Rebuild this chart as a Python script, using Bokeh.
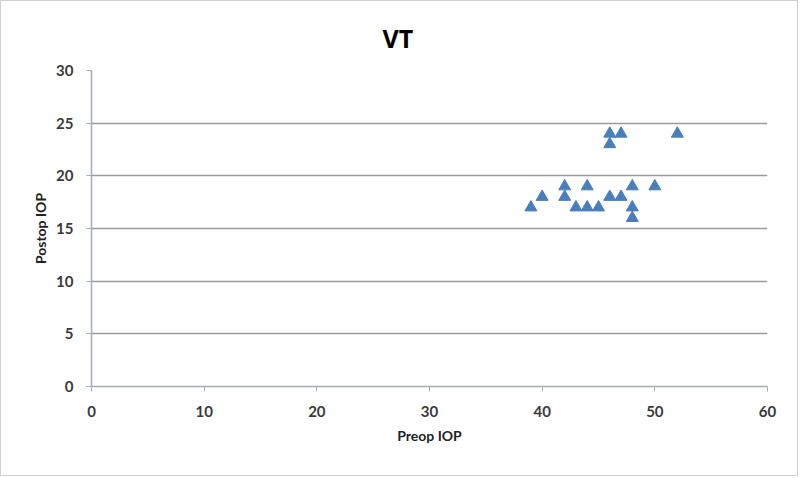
from bokeh.plotting import figure
from bokeh.embed import file_html
from bokeh.resources import INLINE
from bokeh.models import FixedTicker, Range1d

preop_iop = [39, 40, 42, 42, 43, 44, 44, 45, 46, 46, 46, 47, 47, 48, 48, 48, 50, 52]
postop_iop = [17, 18, 19, 18, 17, 17, 19, 17, 18, 24, 23, 18, 24, 19, 17, 16, 19, 24]
x_ticks = [0, 10, 20, 30, 40, 50, 60]
y_ticks = [0, 5, 10, 15, 20, 25, 30]

FONT = "Lato"

p = figure(width=798, height=476, output_backend="svg", toolbar_location=None,
           x_range=Range1d(0, 60), y_range=Range1d(0, 30),
           min_border_left=90, min_border_right=32, min_border_top=69, min_border_bottom=91)

p.title.text = "VT"
p.title.align = "left"
p.title.offset = 291
p.title.text_font = "Open Sans"
p.title.text_font_size = "25px"
p.title.text_font_style = "bold"
p.title.text_color = "#000000"
p.title.standoff = 32

p.outline_line_color = None
p.background_fill_color = "white"
p.border_fill_color = "white"

p.scatter(preop_iop, postop_iop, marker="triangle", size=12,
          fill_color="#4a7ebb", line_color="#4a7ebb")

p.xaxis.ticker = FixedTicker(ticks=x_ticks)
p.yaxis.ticker = FixedTicker(ticks=y_ticks)
p.xaxis.axis_label = "Preop IOP"
p.yaxis.axis_label = "Postop IOP"
for ax in (p.xaxis, p.yaxis):
    ax.axis_label_text_font = FONT
    ax.axis_label_text_font_size = "14px"
    ax.axis_label_text_font_style = "bold"
    ax.axis_label_text_color = "#222222"
    ax.major_label_text_font = FONT
    ax.major_label_text_font_size = "15px"
    ax.major_label_text_font_style = "bold"
    ax.major_label_text_color = "#3a3a3a"
    ax.axis_line_color = "#a3adb8"
    ax.axis_line_width = 1.5
    ax.major_tick_line_color = "#a3adb8"
    ax.major_tick_in = 0
    ax.major_tick_out = 5
    ax.minor_tick_line_color = None
p.xaxis.major_label_standoff = 14
p.yaxis.major_label_standoff = 13
p.xaxis.axis_label_standoff = 7
p.yaxis.axis_label_standoff = 4

p.xgrid.grid_line_color = None
p.ygrid.grid_line_color = "#9a9a9a"
p.ygrid.grid_line_width = 1.5

p.styles = {"border": "1px solid #d0d0d0"}

open("out.html", "w").write(file_html(p, INLINE))
